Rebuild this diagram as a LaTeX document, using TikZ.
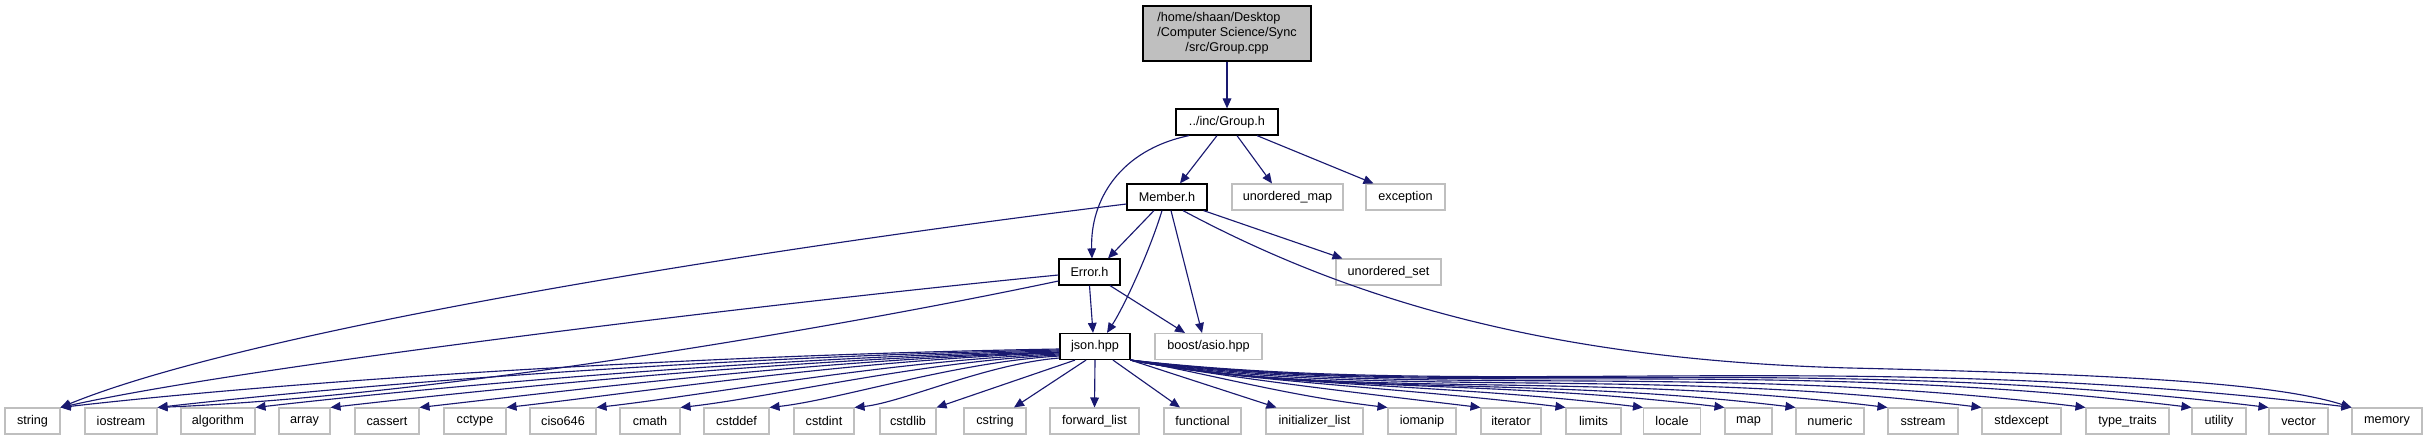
\documentclass[tikz,border=0pt]{standalone}
\usepackage{fontspec}
\setmainfont{Liberation Sans}
\usetikzlibrary{arrows.meta}
\definecolor{edgecol}{HTML}{191970}
\definecolor{greyb}{HTML}{BFBFBF}
\newcommand\px[1]{#1*0.75pt}
\tikzset{
  nbox/.style={draw=black, line width=0.9pt, fill=white, inner sep=0pt, minimum height=\px{26}},
  gbox/.style={draw=greyb, line width=0.8pt, fill=white, inner sep=0pt, minimum height=\px{26}},
  edge/.style={draw=edgecol, line width=0.85pt, -{Triangle[length=7.5pt,width=6.5pt]}},
}
\newcommand\ledge[3]{%
  \pgfmathsetmacro\dd{1060-#2}%
  \pgfmathsetmacro\ca{1060-0.36*\dd}%
  \pgfmathsetmacro\cb{#3+6}%
  \pgfmathsetmacro\cc{#2+0.24*\dd}%
  \pgfmathsetmacro\cd{408-0.028*\dd}%
  \pgfmathsetmacro\sh{346.5-#3}%
  \draw[edge] ([yshift=\sh*0.75pt]json.west) .. controls (\ca,\cb) and (\cc,\cd) .. (#1.north east);%
}
\newcommand\redge[3]{%
  \pgfmathsetmacro\dd{#2-1130}%
  \pgfmathsetmacro\ca{1130+0.29*\dd}%
  \pgfmathsetmacro\cc{#2-0.41*\dd}%
  \pgfmathsetmacro\cd{408-0.05*\dd}%
  \draw[edge] (json.south east) .. controls (\ca,#3) and (\cc,\cd) .. (#1.north west);%
}
\begin{document}
\begin{tikzpicture}[x=0.75pt, y=-0.75pt, font=\fontsize{9.5pt}{11.25pt}\selectfont]
\useasboundingbox (0,0) rectangle (2427,440);
% upper nodes
\node[nbox, fill=greyb, minimum width=\px{168}, minimum height=\px{55}, align=center] (cpp) at (1227,33.5)
  {\rlap{/home/shaan/Desktop}\phantom{/Computer Science/Sync}\\/Computer Science/Sync\\/src/Group.cpp};
\node[nbox, minimum width=\px{102}] (grouph) at (1227,122) {../inc/Group.h};
\node[nbox, minimum width=\px{80}] (member) at (1167,197) {Member.h};
\node[gbox, minimum width=\px{111}] (umap) at (1287.5,197) {unordered\_map};
\node[gbox, minimum width=\px{79}] (exception) at (1405.5,197) {exception};
\node[nbox, minimum width=\px{61}] (error) at (1089.5,272) {Error.h};
\node[gbox, minimum width=\px{105}] (uset) at (1388.5,272) {unordered\_set};
\node[nbox, minimum width=\px{70}] (json) at (1095,346.5) {json.hpp};
\node[gbox, minimum width=\px{107}] (boost) at (1208.5,346.5) {boost/asio.hpp};
% bottom row
\foreach \n/\t/\cx/\w in {
  string/string/32.5/55, iostream/iostream/121/72, algorithm/algorithm/218/74,
  array/array/304.5/51, cassert/cassert/387/64, cctype/cctype/475/62,
  ciso646/ciso646/563/66, cmath/cmath/650/60, cstddef/cstddef/736.5/65,
  cstdint/cstdint/824/60, cstdlib/cstdlib/908/56, cstring/cstring/995/62,
  fwdlist/forward\_list/1094.5/89, functional/functional/1202.5/77,
  initlist/initializer\_list/1314.5/97, iomanip/iomanip/1422/68,
  iterator/iterator/1511/60, limits/limits/1593.5/55, locale/locale/1672/57,
  map/map/1748.5/47, numeric/numeric/1830/68, sstream/sstream/1923/70,
  stdexcept/stdexcept/2021.5/79, typetraits/type\_traits/2127.5/83,
  utility/utility/2219/54, vector/vector/2298.5/59, memory/memory/2387/70}
  \node[gbox, minimum width=\px{\w}] (\n) at (\cx,421) {\t};
% edges from Group.cpp and Group.h
\draw[edge] (cpp.south) -- (grouph.north);
\draw[edge] ([xshift=\px{-10}]grouph.south) -- ([xshift=\px{13}]member.north);
\draw[edge] ([xshift=\px{10}]grouph.south) -- ([xshift=\px{-15.5}]umap.north);
\draw[edge] ([xshift=\px{30}]grouph.south) -- ([xshift=\px{-32}]exception.north);
\draw[edge] ([xshift=\px{-38}]grouph.south) .. controls (1120,150) and (1090,200) .. ([xshift=\px{2.5}]error.north);
% edges from Member.h
\draw[edge] ([xshift=\px{-13}]member.south) -- ([xshift=\px{18.5}]error.north);
\draw[edge] ([xshift=\px{-5}]member.south) .. controls (1150,250) and (1125,305) .. ([xshift=\px{12}]json.north);
\draw[edge] ([xshift=\px{4}]member.south) -- ([xshift=\px{-6.5}]boost.north);
\draw[edge] ([xshift=\px{-4}]member.south east) -- ([xshift=\px{7}]uset.north west);
\draw[edge] ([yshift=\px{-7}]member.west) .. controls (750,250) and (250,330) .. (string.north east);
\draw[edge] ([xshift=\px{16}]member.south) .. controls (1350,300) and (1550,360) .. (1850,368)
   .. controls (2150,375) and (2280,385) .. (memory.north west);
% edges from Error.h
\draw[edge] (error.south) -- ([xshift=\px{-2}]json.north);
\draw[edge] ([xshift=\px{20.5}]error.south) -- ([xshift=\px{-23.5}]boost.north);
\draw[edge] ([yshift=\px{-3}]error.west) .. controls (800,300) and (250,365) .. (string.north east);
\draw[edge] ([yshift=\px{-9}]error.west) .. controls (850,325) and (450,395) .. (iostream.north east);
% edges from json.hpp to the left
\ledge{string}{60}{349}
\ledge{iostream}{157}{350}
\ledge{algorithm}{255}{351}
\ledge{array}{330}{352}
\ledge{cassert}{419}{352.5}
\ledge{cctype}{506}{353}
\ledge{ciso646}{596}{354}
\ledge{cmath}{680}{355}
\ledge{cstddef}{769}{356}
\ledge{cstdint}{854}{358}
\draw[edge] ([xshift=\px{-20}]json.south) -- (cstdlib.north east);
\draw[edge] ([xshift=\px{-9}]json.south) -- ([xshift=\px{19}]cstring.north);
\draw[edge] (json.south) -- (fwdlist.north);
\draw[edge] ([xshift=\px{18}]json.south) -- ([xshift=\px{-22.5}]functional.north);
\draw[edge] (json.south east) -- ([xshift=\px{11}]initlist.north west);
% edges from json.hpp to the right
\redge{iomanip}{1388}{372.5}
\redge{iterator}{1481}{378}
\redge{limits}{1566}{383}
\redge{locale}{1644}{388}
\redge{map}{1725}{393}
\redge{numeric}{1796}{397}
\redge{sstream}{1888}{400}
\redge{stdexcept}{1982}{400}
\redge{typetraits}{2086}{400}
\redge{utility}{2192}{400}
\redge{vector}{2269}{400}
\redge{memory}{2353}{400}
\end{tikzpicture}
\end{document}
